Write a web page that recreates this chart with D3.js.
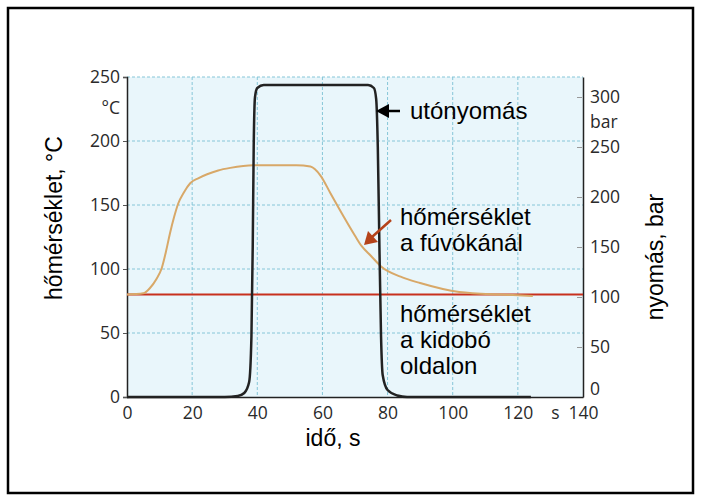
<!DOCTYPE html>
<html>
<head>
<meta charset="utf-8">
<script src="https://cdn.jsdelivr.net/npm/d3@7"></script>
<style>
body { margin: 0; background: #fff; }
text { font-family: "Liberation Sans", Arial, sans-serif; }
.tick-label { font-family: "Open Sans", sans-serif; font-size: 17.5px; fill: #2a2a2a; }
</style>
</head>
<body>
<svg id="chart" width="701" height="502"></svg>
<script>
// tick values
var xTicks = [0, 20, 40, 60, 80, 100, 120, 140];
var tempTicks = [0, 50, 100, 150, 200, 250];
var barTicks = [0, 50, 100, 150, 200, 250, 300];

// pressure curve (utónyomás), time s -> bar
var pressT = [0, 30, 34, 36, 37.5, 38.2, 38.6, 38.9, 39.3, 40, 42, 74, 75.8, 76.5, 77, 77.5, 78, 78.5, 80, 83, 86, 124];
var pressV = [0, 0, 1, 4, 15, 60, 150, 250, 300, 309, 312, 312, 309, 298, 250, 150, 60, 22, 7, 1.5, 0, 0];

// nozzle temperature (hőmérséklet a fúvókánál), time s -> °C
var nozT = [0, 5, 7, 9, 10.7, 12, 13.2, 14.5, 15.7, 17.5, 19.4, 22, 24.6, 28, 31.7, 38.8, 45, 52, 56.3, 59.4, 62.5, 66.5, 70, 72, 75, 78, 84, 90, 102, 115, 124.6];
var nozV = [80, 81, 85, 92, 101, 114, 128, 141, 151, 160, 167, 171, 174, 177, 179, 181, 181, 181, 180, 173, 159, 141, 126, 118, 110, 102, 94, 89, 82, 80, 79];

// ejector side temperature (hőmérséklet a kidobó oldalon)
var ejT = [0, 140];
var ejV = [80, 80];

var svg = d3.select("#chart");

// outer frame
svg.append("rect")
    .attr("x", 8).attr("y", 8)
    .attr("width", 685).attr("height", 485)
    .attr("fill", "none").attr("stroke", "#000").attr("stroke-width", 2.5);

var x = d3.scaleLinear().domain([0, 140]).range([127, 583]);
var yT = d3.scaleLinear().domain([0, 250]).range([397, 77]);
var yP = d3.scaleLinear().domain([0, 320]).range([397, 77]);

// plot background
svg.append("rect")
    .attr("x", x(0)).attr("y", yT(250))
    .attr("width", x(140) - x(0)).attr("height", yT(0) - yT(250))
    .attr("fill", "#e9f6fb");

// grid
svg.append("g").selectAll("line")
    .data(xTicks.filter(d => d > 0 && d < 140))
    .join("line")
    .attr("x1", d => x(d)).attr("x2", d => x(d))
    .attr("y1", yT(250)).attr("y2", yT(0))
    .attr("stroke", "#86c6d8").attr("stroke-width", 1)
    .attr("stroke-dasharray", "3,2");
svg.append("g").selectAll("line")
    .data(tempTicks.filter(d => d > 0))
    .join("line")
    .attr("x1", x(0)).attr("x2", x(140))
    .attr("y1", d => yT(d)).attr("y2", d => yT(d))
    .attr("stroke", "#86c6d8").attr("stroke-width", 1)
    .attr("stroke-dasharray", "3,2");

// axes
var axL = svg.append("g").attr("transform", "translate(" + x(0) + ",0)")
    .call(d3.axisLeft(yT).tickValues(tempTicks).tickSize(4).tickPadding(3));
axL.select(".domain").attr("stroke", "#222").attr("stroke-width", 1.5);
axL.selectAll(".tick line").attr("stroke", "#555");
axL.selectAll("text").attr("class", "tick-label").attr("font-family", null).attr("font-size", null);

var axR = svg.append("g").attr("transform", "translate(" + x(140) + ",0)")
    .call(d3.axisRight(yP).tickValues(barTicks).tickSize(0).tickPadding(7));
axR.select(".domain").attr("stroke", "#222").attr("stroke-width", 1.5);
axR.selectAll(".tick").append("line")
    .attr("x1", -6).attr("x2", -1).attr("stroke", "#999");
axR.selectAll("text").attr("class", "tick-label").attr("font-family", null).attr("font-size", null)
    .attr("dy", d => d === 0 ? "-0.12em" : "0.32em");

var axB = svg.append("g").attr("transform", "translate(0," + yT(0) + ")")
    .call(d3.axisBottom(x).tickValues(xTicks).tickSize(0).tickPadding(10));
axB.select(".domain").attr("stroke", "#222").attr("stroke-width", 1.5);
axB.selectAll("text").attr("class", "tick-label").attr("font-family", null).attr("font-size", null);

// unit labels
svg.append("text").attr("class", "tick-label")
    .attr("x", 120).attr("y", 114).attr("text-anchor", "end").text("°C");
svg.append("text").attr("class", "tick-label")
    .attr("x", 590).attr("y", 128).text("bar");
svg.append("text").attr("class", "tick-label")
    .attr("x", x(131.5)).attr("y", yT(0) + 22).attr("text-anchor", "middle").text("s");

// curves
var line = function (ys) {
    return d3.line().x(d => x(d[0])).y(d => ys(d[1])).curve(d3.curveMonotoneX);
};

svg.append("path")
    .datum(ejT.map((t, i) => [t, ejV[i]]))
    .attr("d", line(yT))
    .attr("fill", "none").attr("stroke", "#c8301e").attr("stroke-width", 2);

svg.append("path")
    .datum(nozT.map((t, i) => [t, nozV[i]]))
    .attr("d", line(yT))
    .attr("fill", "none").attr("stroke", "#d8a868").attr("stroke-width", 2);

svg.append("path")
    .datum(pressT.map((t, i) => [t, pressV[i]]))
    .attr("d", line(yP))
    .attr("fill", "none").attr("stroke", "#222").attr("stroke-width", 2.5);

// annotation arrows
svg.append("line")
    .attr("x1", 386).attr("y1", 111).attr("x2", 400).attr("y2", 111)
    .attr("stroke", "#000").attr("stroke-width", 2.5);
svg.append("path")
    .attr("d", "M376,111L389,104L389,118Z").attr("fill", "#000");

svg.append("line")
    .attr("x1", 372).attr("y1", 237).attr("x2", 391).attr("y2", 220)
    .attr("stroke", "#b5431a").attr("stroke-width", 2.5);
svg.append("path")
    .attr("d", "M364,245L368,231L378,242Z").attr("fill", "#b5431a");

var ann = [
    { x: 410, y: 119, lines: ["utónyomás"] },
    { x: 400, y: 225, lines: ["hőmérséklet", "a fúvókánál"] },
    { x: 400, y: 322, lines: ["hőmérséklet", "a kidobó", "oldalon"] }
];
ann.forEach(function (a) {
    var t = svg.append("text").attr("x", a.x).attr("y", a.y)
        .attr("font-size", 24).attr("fill", "#000");
    a.lines.forEach(function (l, i) {
        t.append("tspan").attr("x", a.x).attr("dy", i ? 26 : 0).text(l);
    });
});

// axis titles
svg.append("text")
    .attr("transform", "translate(62,218) rotate(-90)")
    .attr("text-anchor", "middle").attr("font-size", 23).text("hőmérséklet, °C");
svg.append("text")
    .attr("transform", "translate(663,257) rotate(-90)")
    .attr("text-anchor", "middle").attr("font-size", 23).text("nyomás, bar");
svg.append("text")
    .attr("x", 333).attr("y", 446)
    .attr("text-anchor", "middle").attr("font-size", 23).text("idő, s");
</script>
</body>
</html>
